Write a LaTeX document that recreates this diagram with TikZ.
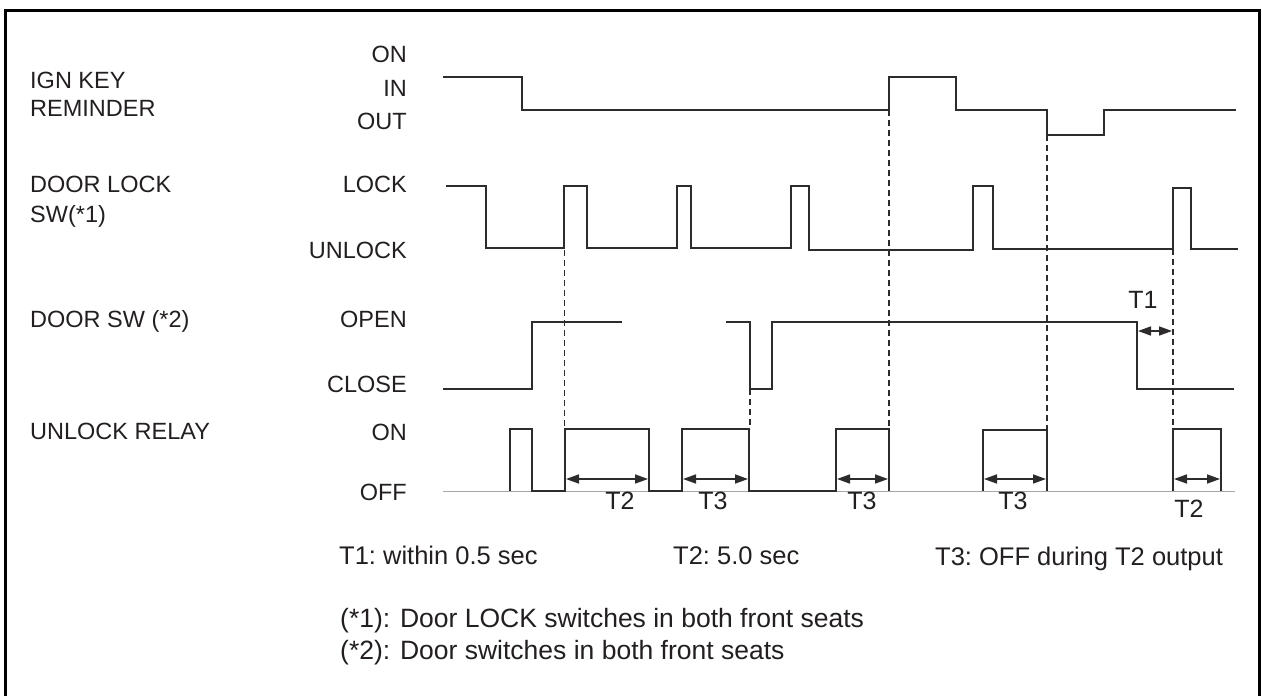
\documentclass[tikz,border=0pt]{standalone}
\usepackage{fontspec}
\setmainfont{Liberation Sans}
\usetikzlibrary{arrows.meta}
\definecolor{ink}{HTML}{231F20}
\definecolor{wave}{HTML}{2E2B2C}
\tikzset{
  lbl/.style={inner sep=0pt, text=ink, font=\fontsize{23.5}{27}\selectfont},
  lvl/.style={lbl, anchor=base east},
  sig/.style={lbl, anchor=base west},
  tlab/.style={inner sep=0pt, text=ink, anchor=base, font=\fontsize{25}{29}\selectfont},
  note/.style={inner sep=0pt, text=ink, anchor=base west, font=\fontsize{25.5}{29}\selectfont},
  foot/.style={inner sep=0pt, text=ink, anchor=base west, font=\fontsize{26.5}{30}\selectfont},
  wv/.style={draw=wave, line width=2.2pt, line join=miter},
  base/.style={draw=gray!70, line width=1pt},
  guide/.style={draw=wave, line width=1.8pt, dash pattern=on 6pt off 4pt},
  dim/.style={draw=wave, line width=1.6pt, {Triangle[length=13pt,width=9pt]}-{Triangle[length=13pt,width=9pt]}},
  frame/.style={draw=black, line width=3pt}
}
\begin{document}
\begin{tikzpicture}[x=1pt,y=-1pt]
\useasboundingbox (0,0) rectangle (1262,696);
\fill[white] (0,0) rectangle (1262,696);
% frame (bottom edge lies outside the picture)
\draw[frame] (5.7,710) -- (5.7,10) -- (1259.3,10) -- (1259.3,710);

% signal names
\node[sig] (nIGN1) at (30,88) {IGN KEY};
\node[sig] (nIGN2) at (30,116) {REMINDER};
\node[sig] (nDL1) at (30,192) {DOOR LOCK};
\node[sig] (nDL2) at (30,222) {SW(*1)};
\node[sig] (nDS) at (30,327) {DOOR SW (*2)};
\node[sig] (nUR) at (30,439) {UNLOCK RELAY};

% level names
\node[lvl] (lON) at (407,62) {ON};
\node[lvl] (lIN) at (407,96) {IN};
\node[lvl] (lOUT) at (407,129) {OUT};
\node[lvl] (lLOCK) at (407,192) {LOCK};
\node[lvl] (lUNLOCK) at (407,258) {UNLOCK};
\node[lvl] (lOPEN) at (407,327) {OPEN};
\node[lvl] (lCLOSE) at (407,392) {CLOSE};
\node[lvl] (lRON) at (407,440) {ON};
\node[lvl] (lROFF) at (407,500) {OFF};

% IGN key reminder
\draw[wv] (443,77) -- (522,77) -- (522,110) -- (889,110) -- (889,77) -- (956,77) -- (956,110)
  -- (1047,110) -- (1047,135) -- (1104,135) -- (1104,110) -- (1236,110);

% door lock sw
\draw[wv] (446,186) -- (486,186) -- (486,248) -- (564,248) -- (564,186) -- (587,186) -- (587,248)
  -- (677,248) -- (677,186) -- (691,186) -- (691,248) -- (791,248) -- (791,186) -- (809,186)
  -- (809,250) -- (973,250) -- (973,186) -- (993,186) -- (993,249) -- (1173,249) -- (1173,188)
  -- (1191,188) -- (1191,249) -- (1238,249);

% door sw
\draw[wv] (443,389) -- (532,389) -- (532,322) -- (622,322);
\draw[wv] (726,322) -- (750,322) -- (750,389) -- (772,389) -- (772,322) -- (1137,322)
  -- (1137,389) -- (1234,389);

% unlock relay
\draw[base] (443,491) -- (1235,491);
\draw[wv] (510,491) -- (510,429) -- (532,429) -- (532,491) -- (565,491) -- (565,429) -- (649,429)
  -- (649,491) -- (682,491) -- (682,429) -- (749,429) -- (749,491) -- (836,491) -- (836,429)
  -- (889,429) -- (889,491);
\draw[wv] (983,491) -- (983,430) -- (1047,430) -- (1047,491);
\draw[wv] (1173,491) -- (1173,429) -- (1221,429) -- (1221,491);

% dashed guides
\draw[guide] (564.5,250) -- (564.5,429);
\draw[guide] (750,389) -- (750,429);
\draw[guide] (889,110) -- (889,429);
\draw[guide] (1047,135) -- (1047,429);
\draw[guide] (1173,249) -- (1173,429);

% time spans
\coordinate (a1) at (566,479); \coordinate (b1) at (648,479);
\coordinate (a2) at (683,479); \coordinate (b2) at (748,479);
\coordinate (a3) at (837,479); \coordinate (b3) at (888,479);
\coordinate (a4) at (984,479); \coordinate (b4) at (1046,479);
\coordinate (a5) at (1174,479); \coordinate (b5) at (1220,479);
\coordinate (a6) at (1138,331); \coordinate (b6) at (1172,331);
\draw[dim] (a1) -- (b1);
\draw[dim] (a2) -- (b2);
\draw[dim] (a3) -- (b3);
\draw[dim] (a4) -- (b4);
\draw[dim] (a5) -- (b5);
\draw[dim] (a6) -- (b6);

\node[tlab] (t1) at (620,509) {T2};
\node[tlab] (t2) at (713,509) {T3};
\node[tlab] (t3) at (862,509) {T3};
\node[tlab] (t4) at (1013,509) {T3};
\node[tlab] (t5) at (1189,517) {T2};
\node[tlab] (t6) at (1143,308) {T1};

% notes
\node[note] (m1) at (339,564) {T1:\ within 0.5 sec};
\node[note] (m2) at (673,564) {T2:\ 5.0 sec};
\node[note] (m3) at (935,565) {T3:\ OFF during T2 output};
\node[foot] (f1) at (340,627) {(*1): Door LOCK switches in both front seats};
\node[foot] (f2) at (340,659) {(*2): Door switches in both front seats};
\end{tikzpicture}
\end{document}
